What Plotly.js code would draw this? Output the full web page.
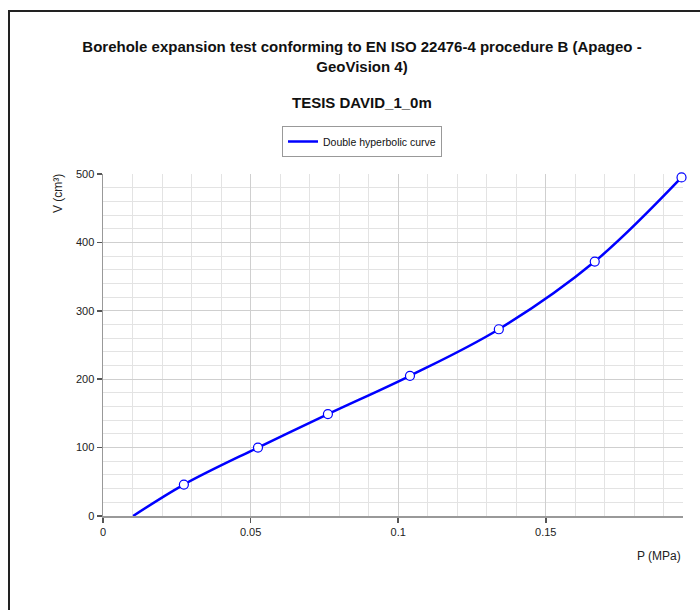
<!DOCTYPE html>
<html>
<head>
<meta charset="utf-8">
<script src="https://cdn.plot.ly/plotly-3.0.1.min.js"></script>
<style>
  html, body { margin: 0; padding: 0; background: #fff; }
  #wrap { position: relative; width: 700px; height: 610px; overflow: hidden; }
  #chart { width: 700px; height: 610px; }
  #frame { position: absolute; left: 8px; top: 10px; width: 720px; height: 640px;
           border-left: 2px solid #222; border-top: 2px solid #222; pointer-events: none; }
</style>
</head>
<body>
<div id="wrap">
  <div id="chart"></div>
  <div id="frame"></div>
</div>
<script>
// Measured points (P in MPa, V in cm3)
const pointsP = [0.0274, 0.0525, 0.0762, 0.1040, 0.1341, 0.1666, 0.1960];
const pointsV = [46, 100, 149, 205, 273, 372, 495];

// Double hyperbolic fitted curve
const curveP = [0.0102, 0.0274, 0.0525, 0.0762, 0.1040, 0.1341, 0.1666, 0.1960];
const curveV = [0, 46, 100, 149, 205, 273, 372, 495];

const titleText = 'Borehole expansion test conforming to EN ISO 22476-4 procedure B (Apageo -<br>GeoVision 4)';
const subtitleText = 'TESIS DAVID_1_0m';
const legendName = 'Double hyperbolic curve';
const xLabel = 'P (MPa)';
const yLabel = 'V (cm³)';
const xTicks = [0, 0.05, 0.1, 0.15];
const xTickText = ['0', '0.05', '0.1', '0.15'];
const yTicks = [0, 100, 200, 300, 400, 500];

const FONT = 'Liberation Sans, Arial, sans-serif';
const L = 103, R = 683, T = 174, B = 516;
const pw = R - L, ph = B - T;
const px = (x) => (x - L) / pw;
const py = (y) => (B - y) / ph;

const traces = [
  {
    x: curveP, y: curveV, type: 'scatter', mode: 'lines',
    name: legendName,
    line: { color: '#0000ff', width: 2.5, shape: 'spline', smoothing: 1 },
    hoverinfo: 'skip'
  },
  {
    x: pointsP, y: pointsV, type: 'scatter', mode: 'markers',
    showlegend: false,
    marker: { symbol: 'circle', size: 9, color: '#ffffff', line: { color: '#0000ff', width: 1.2 } },
    cliponaxis: false
  }
];

const layout = {
  width: 700, height: 610,
  margin: { l: L, r: 700 - R, t: T, b: 610 - B },
  paper_bgcolor: '#ffffff', plot_bgcolor: '#ffffff',
  font: { family: FONT, color: '#333' },
  title: {
    text: titleText,
    font: { family: FONT, size: 15, color: '#111', weight: 'bold' },
    x: 362 / 700, xanchor: 'center', xref: 'container',
    y: 1 - 52 / 610, yanchor: 'middle', yref: 'container'
  },
  showlegend: true,
  legend: {
    x: px(362), xanchor: 'center', y: py(126), yanchor: 'top',
    orientation: 'h',
    bgcolor: '#ffffff', bordercolor: '#999', borderwidth: 1,
    font: { family: FONT, size: 10.5, color: '#111' },
    itemwidth: 30
  },
  xaxis: {
    range: [0, 0.1965], autorange: false,
    tickvals: xTicks, ticktext: xTickText,
    ticks: 'outside', ticklen: 5, tickwidth: 1.5, tickcolor: '#555',
    showline: true, linecolor: '#999', linewidth: 1.5,
    showgrid: true, gridcolor: '#cfcfcf', gridwidth: 1,
    zeroline: false,
    tickfont: { family: FONT, size: 11, color: '#222' },
    minor: { dtick: 0.01, tick0: 0, showgrid: true, gridcolor: '#e3e3e3', gridwidth: 1, ticks: '' }
  },
  yaxis: {
    range: [0, 500], autorange: false,
    tickvals: yTicks,
    ticks: 'outside', ticklen: 5, tickwidth: 1.5, tickcolor: '#555',
    showline: true, linecolor: '#999', linewidth: 1.5,
    showgrid: true, gridcolor: '#cfcfcf', gridwidth: 1,
    zeroline: false,
    tickfont: { family: FONT, size: 11, color: '#222' },
    minor: { dtick: 20, tick0: 0, showgrid: true, gridcolor: '#e3e3e3', gridwidth: 1, ticks: '' }
  },
  annotations: [
    {
      text: '<b>' + subtitleText + '</b>', xref: 'paper', yref: 'paper',
      x: px(362), y: py(102), xanchor: 'center', yanchor: 'middle', showarrow: false,
      font: { family: FONT, size: 15, color: '#111' }
    },
    {
      text: yLabel, xref: 'paper', yref: 'paper', textangle: -90,
      x: px(58), y: py(194), xanchor: 'center', yanchor: 'middle', showarrow: false,
      font: { family: FONT, size: 12, color: '#222' }
    },
    {
      text: xLabel, xref: 'paper', yref: 'paper',
      x: px(683), y: py(556), xanchor: 'right', yanchor: 'middle', showarrow: false,
      font: { family: FONT, size: 12, color: '#222' }
    }
  ]
};

Plotly.newPlot('chart', traces, layout, { displayModeBar: false, staticPlot: true });
</script>
</body>
</html>
